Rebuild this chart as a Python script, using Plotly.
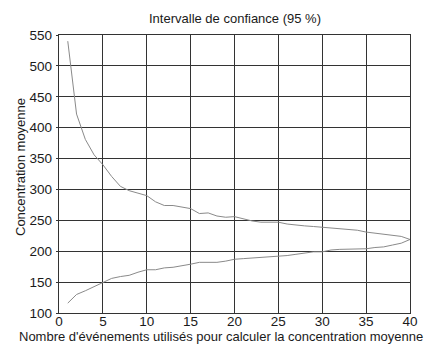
import plotly.graph_objects as go

n_events = list(range(1, 41))
upper = [540, 422, 381, 356, 340, 321, 305, 298, 294, 290,
         280, 274, 274, 272, 269, 261, 262, 257, 255, 256,
         252, 249, 247, 247, 247, 244, 242, 241, 240, 239,
         238, 237, 236, 234, 231, 229, 227, 225, 224, 219]
lower = [116, 130, 136, 143, 150, 156, 159, 161, 166, 170,
         170, 173, 174, 176, 179, 182, 182, 182, 184, 187,
         188, 189, 190, 190, 191, 193, 195, 197, 199, 199,
         202, 203, 203, 203, 204, 206, 207, 210, 213, 219]
x_ticks = [0, 5, 10, 15, 20, 25, 30, 35, 40]
y_ticks = [100, 150, 200, 250, 300, 350, 400, 450, 500, 550]

title_text = "Intervalle de confiance (95 %)"
x_title = "Nombre d'événements utilisés pour calculer la concentration moyenne"
y_title = "Concentration moyenne"

line_style = dict(color="#8a8a8a", width=1)
fig = go.Figure()
fig.add_trace(go.Scatter(x=n_events, y=upper, mode="lines", line=line_style, showlegend=False))
fig.add_trace(go.Scatter(x=n_events, y=lower, mode="lines", line=line_style, showlegend=False))

font = dict(family="Liberation Sans, Arial, sans-serif", size=13, color="#1a1a1a")
axis_common = dict(showgrid=True, gridcolor="#333333", gridwidth=1.4,
                   showline=True, linecolor="#333333", linewidth=1.4, mirror=True,
                   zeroline=False,
                   tickfont=dict(family=font["family"], size=13.5, color="#1a1a1a"))
# the page body adds an 8px offset, so the figure is 8px smaller and margins shifted
fig.update_layout(
    width=428, height=349,
    margin=dict(l=51, r=26, t=27, b=44),
    paper_bgcolor="white", plot_bgcolor="white",
    font=font,
    xaxis=dict(range=[0, 40], tickvals=x_ticks, ticks="", ticklabelstandoff=-4, **axis_common),
    yaxis=dict(range=[100, 550], tickvals=y_ticks, ticks="outside", ticklen=2,
               tickcolor="#333333", ticklabelstandoff=1, **axis_common),
    annotations=[
        dict(text=title_text, xref="paper", yref="paper", x=0.5, y=1, yshift=17,
             showarrow=False, xanchor="center", yanchor="middle", font=font),
        dict(text=x_title, xref="paper", yref="paper", x=(221 - 59) / 351, y=0, yshift=-23.5,
             showarrow=False, xanchor="center", yanchor="middle", font=font),
        dict(text=y_title, xref="paper", yref="paper", x=0, xshift=-39, y=(313 - 167) / 278,
             textangle=-90, showarrow=False, xanchor="center", yanchor="middle", font=font),
    ],
)
fig.write_html("out.html")
